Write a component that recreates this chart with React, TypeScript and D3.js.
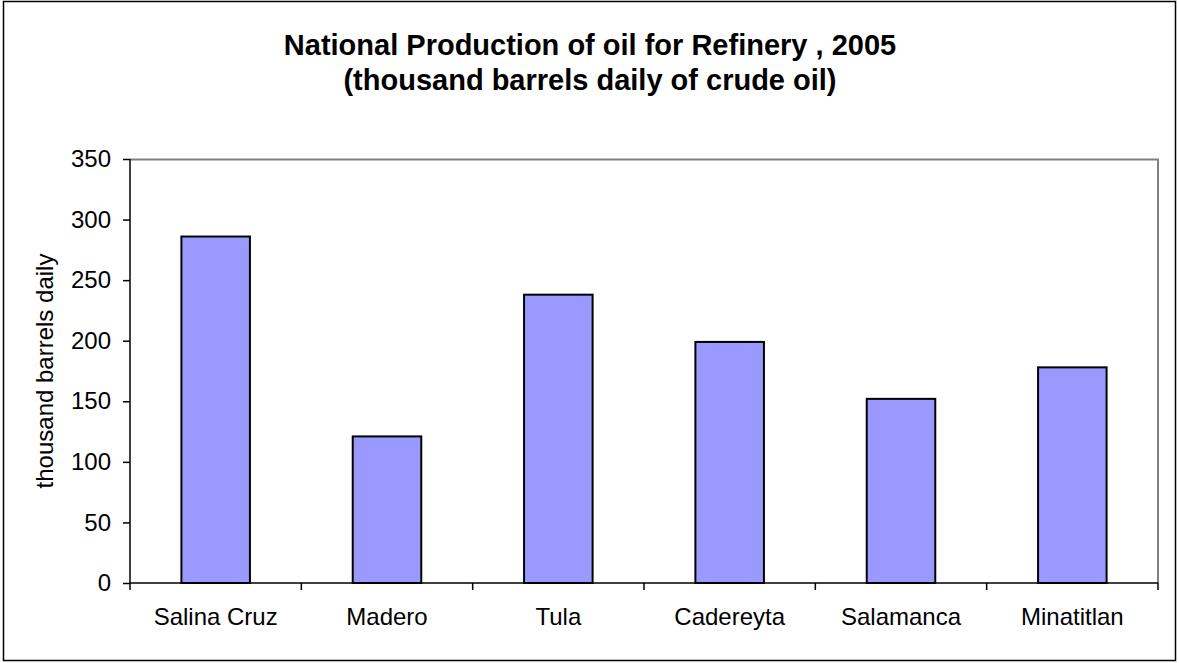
import React, { useEffect, useRef } from "react";
import * as d3 from "d3";

const refineries = ["Salina Cruz", "Madero", "Tula", "Cadereyta", "Salamanca", "Minatitlan"];
const production = [286, 121, 238, 199, 152, 178];
const yTicks = [0, 50, 100, 150, 200, 250, 300, 350];
const titleLines = ["National Production of oil for Refinery , 2005", "(thousand barrels daily of crude oil)"];
const yLabel = "thousand barrels daily";

export default function App() {
  const ref = useRef<SVGSVGElement>(null);

  useEffect(() => {
    const svg = d3.select(ref.current);
    svg.selectAll("*").remove();
    const width = 1179, height = 663;
    const margin = { top: 159, right: 21, bottom: 80, left: 130 };
    const innerW = width - margin.left - margin.right;
    const innerH = height - margin.top - margin.bottom;
    const font = "Arial, 'Liberation Sans', sans-serif";

    svg.append("rect").attr("x", 3.5).attr("y", 1.5).attr("width", 1172).attr("height", 659)
      .attr("fill", "#fff").attr("stroke", "#000").attr("stroke-width", 1.5);

    // title
    svg.append("g").selectAll("text").data(titleLines).join("text")
      .attr("x", 590).attr("y", (d, i) => 55 + i * 35)
      .attr("text-anchor", "middle").attr("font-family", font)
      .attr("font-size", 29).attr("font-weight", "bold").text((d) => d);

    const g = svg.append("g").attr("transform", `translate(${margin.left},${margin.top})`);

    const x = d3.scaleBand().domain(refineries).range([0, innerW]).paddingInner(0.6).paddingOuter(0.3);
    const y = d3.scaleLinear().domain([0, 350]).range([innerH, 0]);

    // plot frame (top & right grey)
    g.append("path").attr("d", `M0,0.5H${innerW}V${innerH}`).attr("fill", "none")
      .attr("stroke", "#808080").attr("stroke-width", 2);

    g.selectAll("rect.bar").data(production).join("rect").attr("class", "bar")
      .attr("x", (d, i) => x(refineries[i])!)
      .attr("y", (d) => y(d))
      .attr("width", x.bandwidth())
      .attr("height", (d) => innerH - y(d))
      .attr("fill", "#9999FF").attr("stroke", "#000").attr("stroke-width", 2);

    // y axis
    const yAxis = g.append("g").call(d3.axisLeft(y).tickValues(yTicks).tickSize(7).tickPadding(12));
    yAxis.select(".domain").attr("stroke", "#000").attr("stroke-width", 1.5).attr("d", `M0,${innerH}V0`);
    yAxis.selectAll(".tick line").attr("stroke", "#000").attr("stroke-width", 1.5);
    yAxis.selectAll("text").attr("font-family", font).attr("font-size", 24).attr("fill", "#000");

    // x axis with boundary ticks
    const step = innerW / refineries.length;
    const xAxis = g.append("g").attr("transform", `translate(0,${innerH})`)
      .call(d3.axisBottom(x).tickSize(0).tickPadding(25));
    xAxis.select(".domain").attr("stroke", "#000").attr("stroke-width", 1.5).attr("d", `M0,0H${innerW}`);
    xAxis.selectAll("text").attr("font-family", font).attr("font-size", 24).attr("fill", "#000");
    xAxis.selectAll("line.bound").data(d3.range(refineries.length + 1)).join("line").attr("class", "bound")
      .attr("x1", (d) => d * step).attr("x2", (d) => d * step).attr("y1", 0).attr("y2", 7)
      .attr("stroke", "#000").attr("stroke-width", 1.5);

    svg.append("text").attr("transform", `translate(53,${margin.top + innerH / 2}) rotate(-90)`)
      .attr("text-anchor", "middle").attr("font-family", font).attr("font-size", 24).text(yLabel);
  }, []);

  return <svg ref={ref} width={1179} height={663} style={{ position: "absolute", left: 0, top: 0 }} />;
}
